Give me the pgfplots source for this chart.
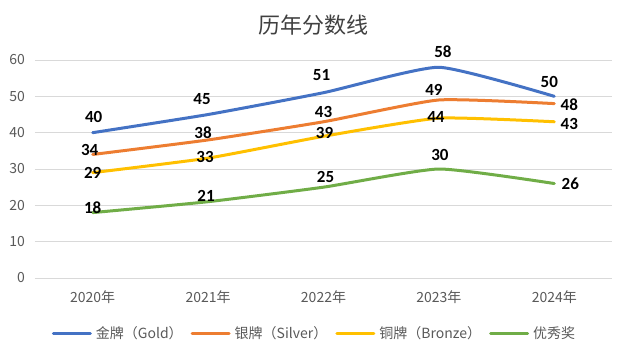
\documentclass[border=0pt]{standalone}
\usepackage{pgfplots}
\pgfplotsset{compat=1.18}
\usepackage{pgfplotstable}
\usepackage{fontspec}
\setmainfont{Noto Sans CJK SC}
\newfontfamily\labfont{Carlito}
\definecolor{cgold}{HTML}{4472C4}
\definecolor{csilver}{HTML}{ED7D31}
\definecolor{cbronze}{HTML}{FFC000}
\definecolor{cgreen}{HTML}{70AD47}
\definecolor{cgrid}{HTML}{D9D9D9}
\definecolor{ctext}{HTML}{595959}
\definecolor{ctitle}{HTML}{404040}

\pgfplotstableread{
x y lx ly
0 40 1 15.5
1 45 -6 15
2 51 -2 17.7
3 58 4 15.7
4 50 -5 14.3
}\gold
\pgfplotstableread{
x y lx ly
0 34 -3 4
1 38 -5 7
2 43 0 10
3 49 -5 10
4 48 15 -1
}\silver
\pgfplotstableread{
x y lx ly
0 29 0 0
1 33 -3 1
2 39 1 3.5
3 44 -3 1.4
4 43 15 -2
}\bronze
\pgfplotstableread{
x y lx ly
0 18 0 5
1 21 -2 6
2 25 2 10
3 30 1 14.4
4 26 16 0
}\green

\begin{document}
\begin{tikzpicture}
\begin{axis}[
  scale only axis,
  width=577bp, height=218bp,
  xmin=-0.5, xmax=4.5,
  ymin=0, ymax=60,
  ytick={0,10,...,60},
  xtick={0,1,2,3,4},
  xticklabels={2020年,2021年,2022年,2023年,2024年},
  axis line style={draw=none},
  ymajorgrids,
  grid style={cgrid, line width=0.8bp},
  major tick length=0pt,
  /pgf/number format/assume math mode=true,
  tick label style={font=\fontsize{14bp}{16bp}\selectfont, text=ctext, inner sep=0pt},
  yticklabel style={anchor=east, xshift=-10bp},
  xticklabel style={anchor=center, yshift=-18.7bp},
  point meta=y,
  nodes near coords={\pgfmathprintnumber[assume math mode=true]{\pgfplotspointmeta}},
  visualization depends on={\thisrow{lx}\as\lx},
  visualization depends on={\thisrow{ly}\as\ly},
  nodes near coords style={anchor=center, inner sep=0pt, xshift=\lx bp, yshift=\ly bp,
    font=\labfont\bfseries\fontsize{17bp}{19bp}\selectfont, text=black},
  legend columns=-1,
  legend image code/.code={\draw[#1] (0bp,0bp) -- (37bp,0bp);},
  legend style={draw=none, fill=none, at={(axis description cs:0.4827,0)}, anchor=center,
    yshift=-55bp, font=\fontsize{14bp}{16bp}\selectfont, text=ctext,
    nodes={inner sep=0pt},
    /tikz/every odd column/.append style={column sep=4bp},
    /tikz/every even column/.append style={column sep=8bp}},
  every axis plot/.append style={line width=3bp, mark=none, smooth, tension=0.3, line cap=round},
  clip=false,
]
\addplot[cgold] table[x=x,y=y] {\gold};
\addlegendentry{金牌（Gold）}
\addplot[csilver] table[x=x,y=y] {\silver};
\addlegendentry{银牌（Silver）}
\addplot[cbronze] table[x=x,y=y] {\bronze};
\addlegendentry{铜牌（Bronze）}
\addplot[cgreen] table[x=x,y=y] {\green};
\addlegendentry{优秀奖}
\end{axis}
\node[font=\fontsize{22bp}{24bp}\selectfont, text=ctitle, inner sep=0pt] at (278.5bp,253bp) {历年分数线};
\path[use as bounding box] (-35bp,-74bp) rectangle (592bp,278bp);
\end{tikzpicture}
\end{document}
